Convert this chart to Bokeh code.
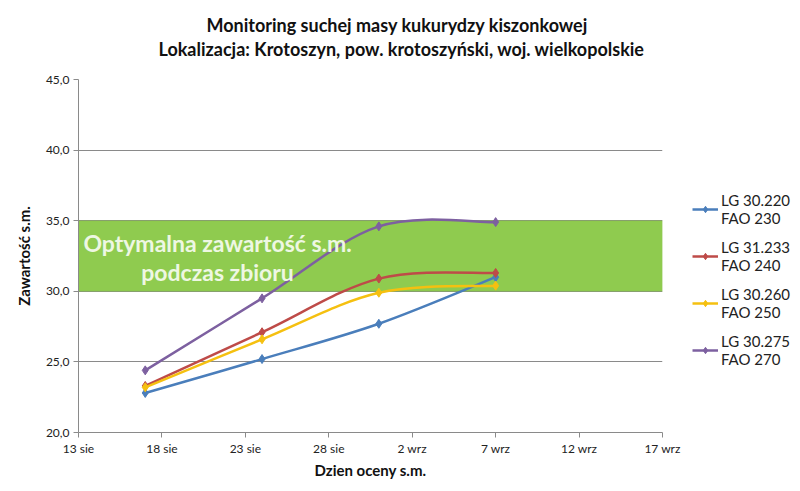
import datetime as dt
from bokeh.plotting import figure
from bokeh.models import (Range1d, FixedTicker, BoxAnnotation, Label, Legend,
                          LegendItem, ColumnDataSource, Title)
from bokeh.embed import file_html
from bokeh.resources import INLINE

# ---- data ----
dates = ["2015-08-17", "2015-08-24", "2015-08-31", "2015-09-07"]
lg_30_220 = [22.8, 25.2, 27.7, 31.0]
lg_31_233 = [23.3, 27.1, 30.9, 31.3]
lg_30_260 = [23.2, 26.6, 29.9, 30.4]
lg_30_275 = [24.4, 29.5, 34.6, 34.9]
series_labels = ["LG 30.220\nFAO 230", "LG 31.233\nFAO 240",
                 "LG 30.260\nFAO 250", "LG 30.275\nFAO 270"]
series_colors = ["#4A7EBB", "#BE4B48", "#F5C010", "#7D60A0"]

x_tick_dates = ["2015-08-13", "2015-08-18", "2015-08-23", "2015-08-28",
                "2015-09-02", "2015-09-07", "2015-09-12", "2015-09-17"]
x_tick_labels = ["13 sie", "18 sie", "23 sie", "28 sie", "2 wrz", "7 wrz",
                 "12 wrz", "17 wrz"]
y_ticks = [20, 25, 30, 35, 40, 45]
y_tick_labels = ["20,0", "25,0", "30,0", "35,0", "40,0", "45,0"]
optimal_low, optimal_high = 30.0, 35.0

title_lines = ["Monitoring suchej masy kukurydzy kiszonkowej",
               "Lokalizacja: Krotoszyn, pow. krotoszyński, woj. wielkopolskie"]
band_text = ["Optymalna zawartość s.m.", "podczas zbioru"]
x_title = "Dzien oceny s.m."
y_title = "Zawartość s.m."


def ms(d):
    return int(dt.datetime.fromisoformat(d).replace(tzinfo=dt.timezone.utc).timestamp() * 1000)


xs = [ms(d) for d in dates]
xt = [ms(d) for d in x_tick_dates]

FONT = "Lato"

p = figure(x_axis_type="datetime", frame_width=584, frame_height=353,
           min_border_left=78, min_border_right=138, min_border_top=79,
           min_border_bottom=59, output_backend="svg", toolbar_location=None,
           x_range=Range1d(xt[0], xt[-1]), y_range=Range1d(y_ticks[0], y_ticks[-1]))
p.outline_line_color = None
p.background_fill_color = "white"
p.border_fill_color = "white"

# titles (first line outermost)
p.title.text = title_lines[0]
p.title.align = "left"
p.title.offset = 128
p.title.text_font = FONT
p.title.text_font_style = "bold"
p.title.text_font_size = "18px"
p.title.text_color = "#111111"
p.title.standoff = -40
t2 = Title(text=title_lines[1], align="left", offset=80, text_font=FONT,
           text_font_style="bold", text_font_size="18px", text_color="#111111",
           standoff=40)
p.add_layout(t2, "above")

# optimal band
band = BoxAnnotation(bottom=optimal_low, top=optimal_high, fill_color="#8FCB4F",
                     fill_alpha=1.0, line_color="#7DB443", line_width=1, level="underlay")
p.add_layout(band)

for txt, yy in zip(band_text, [33.4, 31.35]):
    p.add_layout(Label(x=ms("2015-08-21") + 8 * 3600 * 1000, y=yy, text=txt,
                       text_align="center", text_baseline="middle",
                       text_font=FONT, text_font_style="bold", text_font_size="23px",
                       text_color="#EEF7E3"))

# grid & axes
p.xgrid.visible = False
p.ygrid.grid_line_color = "#8A8A8A"
p.ygrid.ticker = FixedTicker(ticks=y_ticks)

p.xaxis.ticker = FixedTicker(ticks=xt)
p.xaxis.major_label_overrides = {t: l for t, l in zip(xt, x_tick_labels)}
p.yaxis.ticker = FixedTicker(ticks=y_ticks)
p.yaxis.major_label_overrides = {t: l for t, l in zip(y_ticks, y_tick_labels)}

for ax in (p.xaxis, p.yaxis):
    ax.axis_line_color = "#8A8A8A"
    ax.major_tick_line_color = "#8A8A8A"
    ax.major_tick_out = 5
    ax.major_tick_in = 0
    ax.minor_tick_line_color = None
    ax.major_label_text_font = FONT
    ax.major_label_text_font_size = "12px"
    ax.major_label_text_color = "#222222"
    ax.axis_label_text_font = FONT
    ax.axis_label_text_font_style = "bold"
    ax.axis_label_text_font_size = "15px"
    ax.axis_label_text_color = "#111111"
p.xaxis.axis_label = x_title
p.yaxis.axis_label = y_title
p.xaxis.major_label_standoff = 3
p.xaxis.axis_label_standoff = 2
p.yaxis.major_label_standoff = 4
p.yaxis.axis_label_standoff = 10


# smoothed lines (Bezier segments through the data points)
def bezier_segments(xv, yv):
    n = len(xv)
    seg = dict(x0=[], y0=[], x1=[], y1=[], cx0=[], cy0=[], cx1=[], cy1=[])
    for i in range(n - 1):
        xm, ym = (xv[i - 1], yv[i - 1]) if i > 0 else (xv[i], yv[i])
        xp, yp = (xv[i + 2], yv[i + 2]) if i + 2 < n else (xv[i + 1], yv[i + 1])
        seg["x0"].append(xv[i]); seg["y0"].append(yv[i])
        seg["x1"].append(xv[i + 1]); seg["y1"].append(yv[i + 1])
        seg["cx0"].append(xv[i] + (xv[i + 1] - xm) / 6)
        seg["cy0"].append(yv[i] + (yv[i + 1] - ym) / 6)
        seg["cx1"].append(xv[i + 1] - (xp - xv[i]) / 6)
        seg["cy1"].append(yv[i + 1] - (yp - yv[i]) / 6)
    return seg


items = []
for vals, lab, col in zip([lg_30_220, lg_31_233, lg_30_260, lg_30_275],
                          series_labels, series_colors):
    seg = ColumnDataSource(bezier_segments(xs, vals))
    br = p.bezier(x0="x0", y0="y0", x1="x1", y1="y1", cx0="cx0", cy0="cy0",
                  cx1="cx1", cy1="cy1", source=seg, line_color=col, line_width=2.5)
    sr = p.scatter(xs, vals, marker="diamond", size=9, fill_color=col, line_color=col)
    items.append(LegendItem(label=lab, renderers=[br, sr]))

legend = Legend(items=items, location=(30, 64), padding=0, margin=0,
                border_line_color=None, background_fill_alpha=0,
                label_text_font=FONT, label_text_font_size="15px",
                label_text_color="#222222", label_text_line_height=1.45,
                glyph_width=26, glyph_height=16, spacing=11, label_standoff=3)
p.add_layout(legend, "right")

open("out.html", "w").write(file_html(p, INLINE))
